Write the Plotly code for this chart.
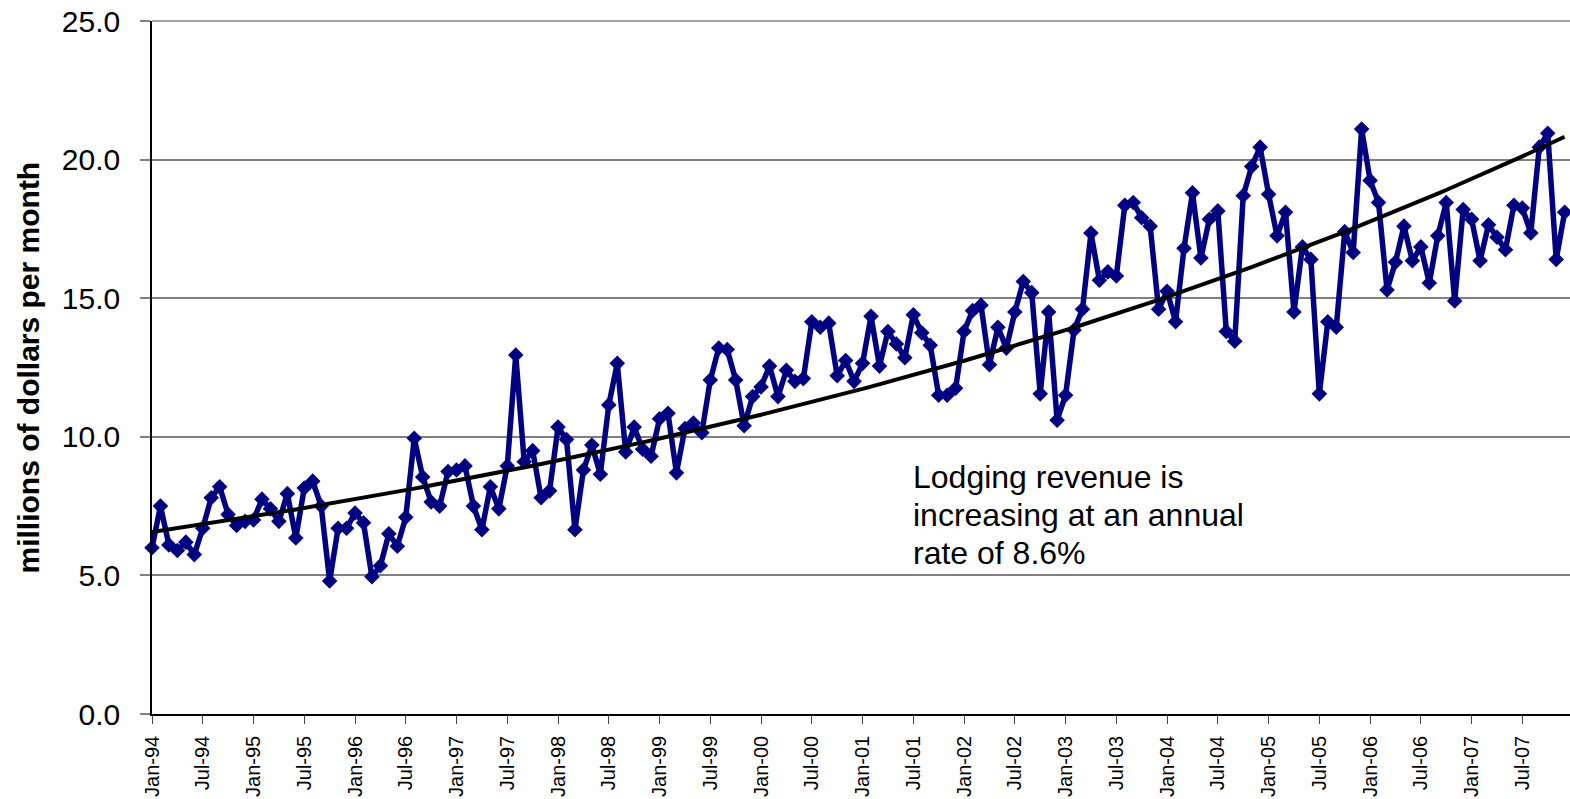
import numpy as np
import plotly.graph_objects as go

# ---- data -------------------------------------------------------------
month_names = ["Jan", "Feb", "Mar", "Apr", "May", "Jun",
               "Jul", "Aug", "Sep", "Oct", "Nov", "Dec"]
years = list(range(1994, 2008))
months = [f"{m}-{str(y)[2:]}" for y in years for m in month_names]  # Jan-94 .. Dec-07

revenue = [
    6.0, 7.5, 6.1, 5.9, 6.2, 5.75, 6.7, 7.8, 8.2, 7.2, 6.8, 6.95,          # 1994
    7.0, 7.75, 7.4, 6.95, 7.95, 6.35, 8.15, 8.4, 7.5, 4.8, 6.7, 6.7,       # 1995
    7.25, 6.9, 4.95, 5.35, 6.5, 6.05, 7.1, 9.95, 8.55, 7.65, 7.5, 8.75,    # 1996
    8.8, 8.95, 7.5, 6.65, 8.2, 7.4, 8.95, 12.95, 9.1, 9.5, 7.8, 8.05,      # 1997
    10.35, 9.9, 6.65, 8.8, 9.7, 8.65, 11.15, 12.65, 9.45, 10.35, 9.55, 9.3,  # 1998
    10.65, 10.85, 8.7, 10.3, 10.5, 10.15, 12.05, 13.2, 13.15, 12.05, 10.4, 11.45,  # 1999
    11.8, 12.55, 11.45, 12.4, 12.0, 12.1, 14.15, 13.95, 14.1, 12.2, 12.75, 12.0,   # 2000
    12.65, 14.35, 12.55, 13.8, 13.35, 12.85, 14.4, 13.75, 13.3, 11.5, 11.5, 11.75, # 2001
    13.8, 14.55, 14.75, 12.6, 13.95, 13.2, 14.5, 15.6, 15.2, 11.55, 14.5, 10.6,    # 2002
    11.5, 13.85, 14.6, 17.35, 15.65, 15.95, 15.8, 18.35, 18.45, 17.9, 17.6, 14.6,  # 2003
    15.25, 14.15, 16.8, 18.8, 16.45, 17.85, 18.15, 13.8, 13.45, 18.7, 19.75, 20.45, # 2004
    18.75, 17.25, 18.1, 14.5, 16.85, 16.4, 11.55, 14.15, 13.95, 17.4, 16.65, 21.1,  # 2005
    19.25, 18.45, 15.3, 16.3, 17.6, 16.35, 16.85, 15.55, 17.25, 18.45, 14.9, 18.2,  # 2006
    17.85, 16.35, 17.65, 17.2, 16.75, 18.35, 18.25, 17.35, 20.45, 20.95, 16.4, 18.1, # 2007
]

tick_labels = [m for m in months if m.startswith("Jan") or m.startswith("Jul")]
y_ticks = [0, 5, 10, 15, 20, 25]
note_lines = ["Lodging revenue is", "increasing at an annual", "rate of 8.6%"]

# exponential trendline (least squares fit on log values, as a spreadsheet does)
idx = np.arange(len(revenue))
b, ln_a = np.polyfit(idx, np.log(revenue), 1)
trend = np.exp(ln_a + b * idx)

# ---- figure -----------------------------------------------------------
W, H = 1570, 799
ML, MR, MT, MB = 152, 0, 21, 85
plot_w = W - ML - MR
px_per_month = 8.459

fig = go.Figure()
fig.add_trace(go.Scatter(
    x=months, y=revenue, mode="lines+markers",
    line=dict(color="#000080", width=5.5),
    marker=dict(symbol="diamond", size=12, color="#000080"),
    cliponaxis=False, showlegend=False, hoverinfo="x+y",
))
fig.add_trace(go.Scatter(
    x=months, y=trend, mode="lines",
    line=dict(color="#000000", width=4),
    showlegend=False, hoverinfo="skip",
))

font_family = "Liberation Sans, Arial, sans-serif"

fig.update_layout(
    width=W, height=H,
    margin=dict(l=ML, r=MR, t=MT, b=MB, autoexpand=False),
    paper_bgcolor="white", plot_bgcolor="white",
    font=dict(family=font_family, color="#000000"),
    xaxis=dict(
        type="category",
        range=[0, plot_w / px_per_month],
        tickmode="array", tickvals=tick_labels, ticktext=tick_labels,
        tickangle=-90, tickfont=dict(size=20, family=font_family),
        ticks="outside", ticklen=8, tickcolor="#444444", tickwidth=1,
        showline=True, linecolor="#000000", linewidth=1.5,
        showgrid=False, zeroline=False, ticklabelstandoff=4,
        ticklabeloverflow="allow",
    ),
    yaxis=dict(
        range=[0, 25], tickmode="array", tickvals=y_ticks,
        tickformat=".1f", tickfont=dict(size=30, family=font_family),
        ticks="outside", ticklen=10, tickcolor="#808080", tickwidth=1.5,
        showline=True, linecolor="#000000", linewidth=1.5,
        showgrid=True, gridcolor="#808080", gridwidth=1.5,
        zeroline=False, ticklabelstandoff=14, ticklabeloverflow="allow",
    ),
    shapes=[dict(type="line", xref="paper", yref="paper", x0=0, x1=1, y0=1, y1=1,
                 line=dict(color="#808080", width=1.5), layer="above")],
)

# y-axis title
fig.add_annotation(
    text="<b>millions of dollars per month</b>", textangle=-90,
    xref="paper", yref="paper", x=(28 - ML) / plot_w, y=0.5,
    xanchor="center", yanchor="middle", showarrow=False,
    font=dict(size=30, family=font_family, color="#000000"),
)

# note text, one annotation per line to reproduce the line spacing
note_y = [8.56, 7.18, 5.82]
for line, yv in zip(note_lines, note_y):
    fig.add_annotation(
        text=line, xref="paper", yref="y",
        x=(911 - ML) / plot_w, y=yv, xanchor="left", yanchor="middle",
        showarrow=False,
        font=dict(size=32, family=font_family, color="#000000"),
    )

# remove the browser's default 8px page margin so the figure fills the window
fig.write_html("out.html", config={"displayModeBar": False},
               post_script="document.body.style.margin='0';")
